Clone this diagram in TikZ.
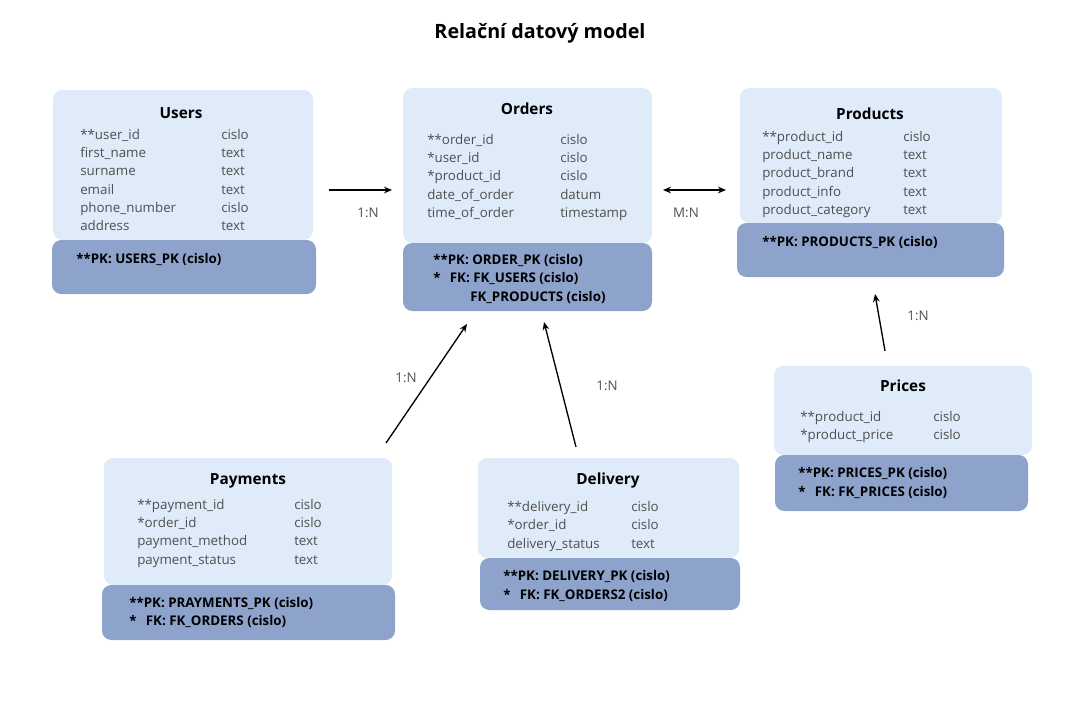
\documentclass[tikz,border=0pt]{standalone}
\usepackage{fontspec}
\setmainfont{Open Sans}
\usetikzlibrary{arrows.meta}
\definecolor{tablight}{HTML}{DFEBF9}
\definecolor{tabdark}{HTML}{8EA3CC}
\definecolor{fieldgray}{HTML}{4F4F4F}

\begin{document}
\begin{tikzpicture}[x=0.75pt, y=-0.75pt, font=\fontsize{10}{12}\selectfont,
    light/.style={fill=tablight, draw=none, rounded corners=7pt},
    dark/.style={fill=tabdark, draw=none, rounded corners=7pt},
    tabname/.style={font=\bfseries\fontsize{11.5}{14}\selectfont},
    field/.style={anchor=west, inner sep=0pt, text=fieldgray, text height=7.5pt, text depth=2.5pt, yshift=-1.5pt},
    keytext/.style={anchor=west, inner sep=0pt, text height=7.5pt, text depth=2.5pt, yshift=-1.2pt, font=\bfseries\fontsize{10}{12}\selectfont},
    rel/.style={line width=1pt, -{Stealth[length=6pt,width=5pt]}},
    card/.style={text=fieldgray}]
    \useasboundingbox (0,0) rectangle (1084,714);
    \node[font=\bfseries\fontsize{14.8}{17}\selectfont] (title) at (540,33) {Relační datový model};

    % Users
    \draw[light] (53,90) rectangle (313,240);
    \draw[dark] (52,240) rectangle (316,294);
    \node[tabname] (users) at (181,113) {Users};
    \foreach \a/\b [count=\i] in {**user\_id/cislo, first\_name/text, surname/text, email/text, phone\_number/cislo, address/text}
        {\node[field] (users-a\i) at (80,115.7+18.3*\i) {\a}; \node[field] (users-b\i) at (221,115.7+18.3*\i) {\b};}
    \node[keytext] (users-pk) at (76,259) {**PK: USERS\_PK (cislo)};

    % Orders
    \draw[light] (403,88) rectangle (652,243);
    \draw[dark] (403,243) rectangle (652,311);
    \node[tabname] (orders) at (527,109) {Orders};
    \foreach \a/\b [count=\i] in {**order\_id/cislo, *user\_id/cislo, *product\_id/cislo, date\_of\_order/datum, time\_of\_order/timestamp}
        {\node[field] (orders-a\i) at (427,120.7+18.3*\i) {\a}; \node[field] (orders-b\i) at (560,120.7+18.3*\i) {\b};}
    \node[keytext] (orders-pk) at (433,260) {**PK: ORDER\_PK (cislo)};
    \node[keytext] (orders-fk) at (433,278) {*\hspace{0.7em}FK: FK\_USERS (cislo)};
    \node[keytext] (orders-fk2) at (470,297) {FK\_PRODUCTS (cislo)};

    % Products
    \draw[light] (740,88) rectangle (1002,223);
    \draw[dark] (737,223) rectangle (1004,277);
    \node[tabname] (products) at (870,114) {Products};
    \foreach \a/\b [count=\i] in {**product\_id/cislo, product\_name/text, product\_brand/text, product\_info/text, product\_category/text}
        {\node[field] (products-a\i) at (762,117.7+18.3*\i) {\a}; \node[field] (products-b\i) at (903,117.7+18.3*\i) {\b};}
    \node[keytext] (products-pk) at (762,242) {**PK: PRODUCTS\_PK (cislo)};

    % Prices
    \draw[light] (774,366) rectangle (1032,455);
    \draw[dark] (775,455) rectangle (1028,511);
    \node[tabname] (prices) at (903,386) {Prices};
    \foreach \a/\b [count=\i] in {**product\_id/cislo, *product\_price/cislo}
        {\node[field] (prices-a\i) at (800,397.5+18.5*\i) {\a}; \node[field] (prices-b\i) at (933,397.5+18.5*\i) {\b};}
    \node[keytext] (prices-pk) at (798,473) {**PK: PRICES\_PK (cislo)};
    \node[keytext] (prices-fk) at (798,492) {*\hspace{0.7em}FK: FK\_PRICES (cislo)};

    % Payments
    \draw[light] (104,458) rectangle (392,585);
    \draw[dark] (102,585) rectangle (395,640);
    \node[tabname] (payments) at (248,481) {Payments};
    \foreach \a/\b [count=\i] in {**payment\_id/cislo, *order\_id/cislo, payment\_method/text, payment\_status/text}
        {\node[field] (payments-a\i) at (137,485.7+18.3*\i) {\a}; \node[field] (payments-b\i) at (294,485.7+18.3*\i) {\b};}
    \node[keytext] (payments-pk) at (129,603) {**PK: PRAYMENTS\_PK (cislo)};
    \node[keytext] (payments-fk) at (129,621) {*\hspace{0.7em}FK: FK\_ORDERS (cislo)};

    % Delivery
    \draw[light] (478,458) rectangle (739,558);
    \draw[dark] (480,558) rectangle (740,610);
    \node[tabname] (delivery) at (608,481) {Delivery};
    \foreach \a/\b [count=\i] in {**delivery\_id/cislo, *order\_id/cislo, delivery\_status/text}
        {\node[field] (delivery-a\i) at (507,487.5+18.5*\i) {\a}; \node[field] (delivery-b\i) at (631,487.5+18.5*\i) {\b};}
    \node[keytext] (delivery-pk) at (503,576) {**PK: DELIVERY\_PK (cislo)};
    \node[keytext] (delivery-fk) at (503,595) {*\hspace{0.7em}FK: FK\_ORDERS2 (cislo)};

    % relations
    \coordinate (uo1) at (329,190); \coordinate (uo2) at (392,190);
    \coordinate (op1) at (663,190); \coordinate (op2) at (726,190);
    \coordinate (pp1) at (885,351); \coordinate (pp2) at (875,294);
    \coordinate (po1) at (386,443); \coordinate (po2) at (467,324);
    \coordinate (do1) at (576,447); \coordinate (do2) at (544,322);
    \draw[rel] (uo1) -- (uo2);
    \draw[rel, {Stealth[length=6pt,width=5pt]}-{Stealth[length=6pt,width=5pt]}] (op1) -- (op2);
    \draw[rel] (pp1) -- (pp2);
    \draw[rel] (po1) -- (po2);
    \draw[rel] (do1) -- (do2);
    \node[card] (uo) at (368,213) {1:N};
    \node[card] (op) at (686,213) {M:N};
    \node[card] (pp) at (918,316) {1:N};
    \node[card] (po) at (406,378) {1:N};
    \node[card] (do) at (607,386) {1:N};
\end{tikzpicture}
\end{document}
